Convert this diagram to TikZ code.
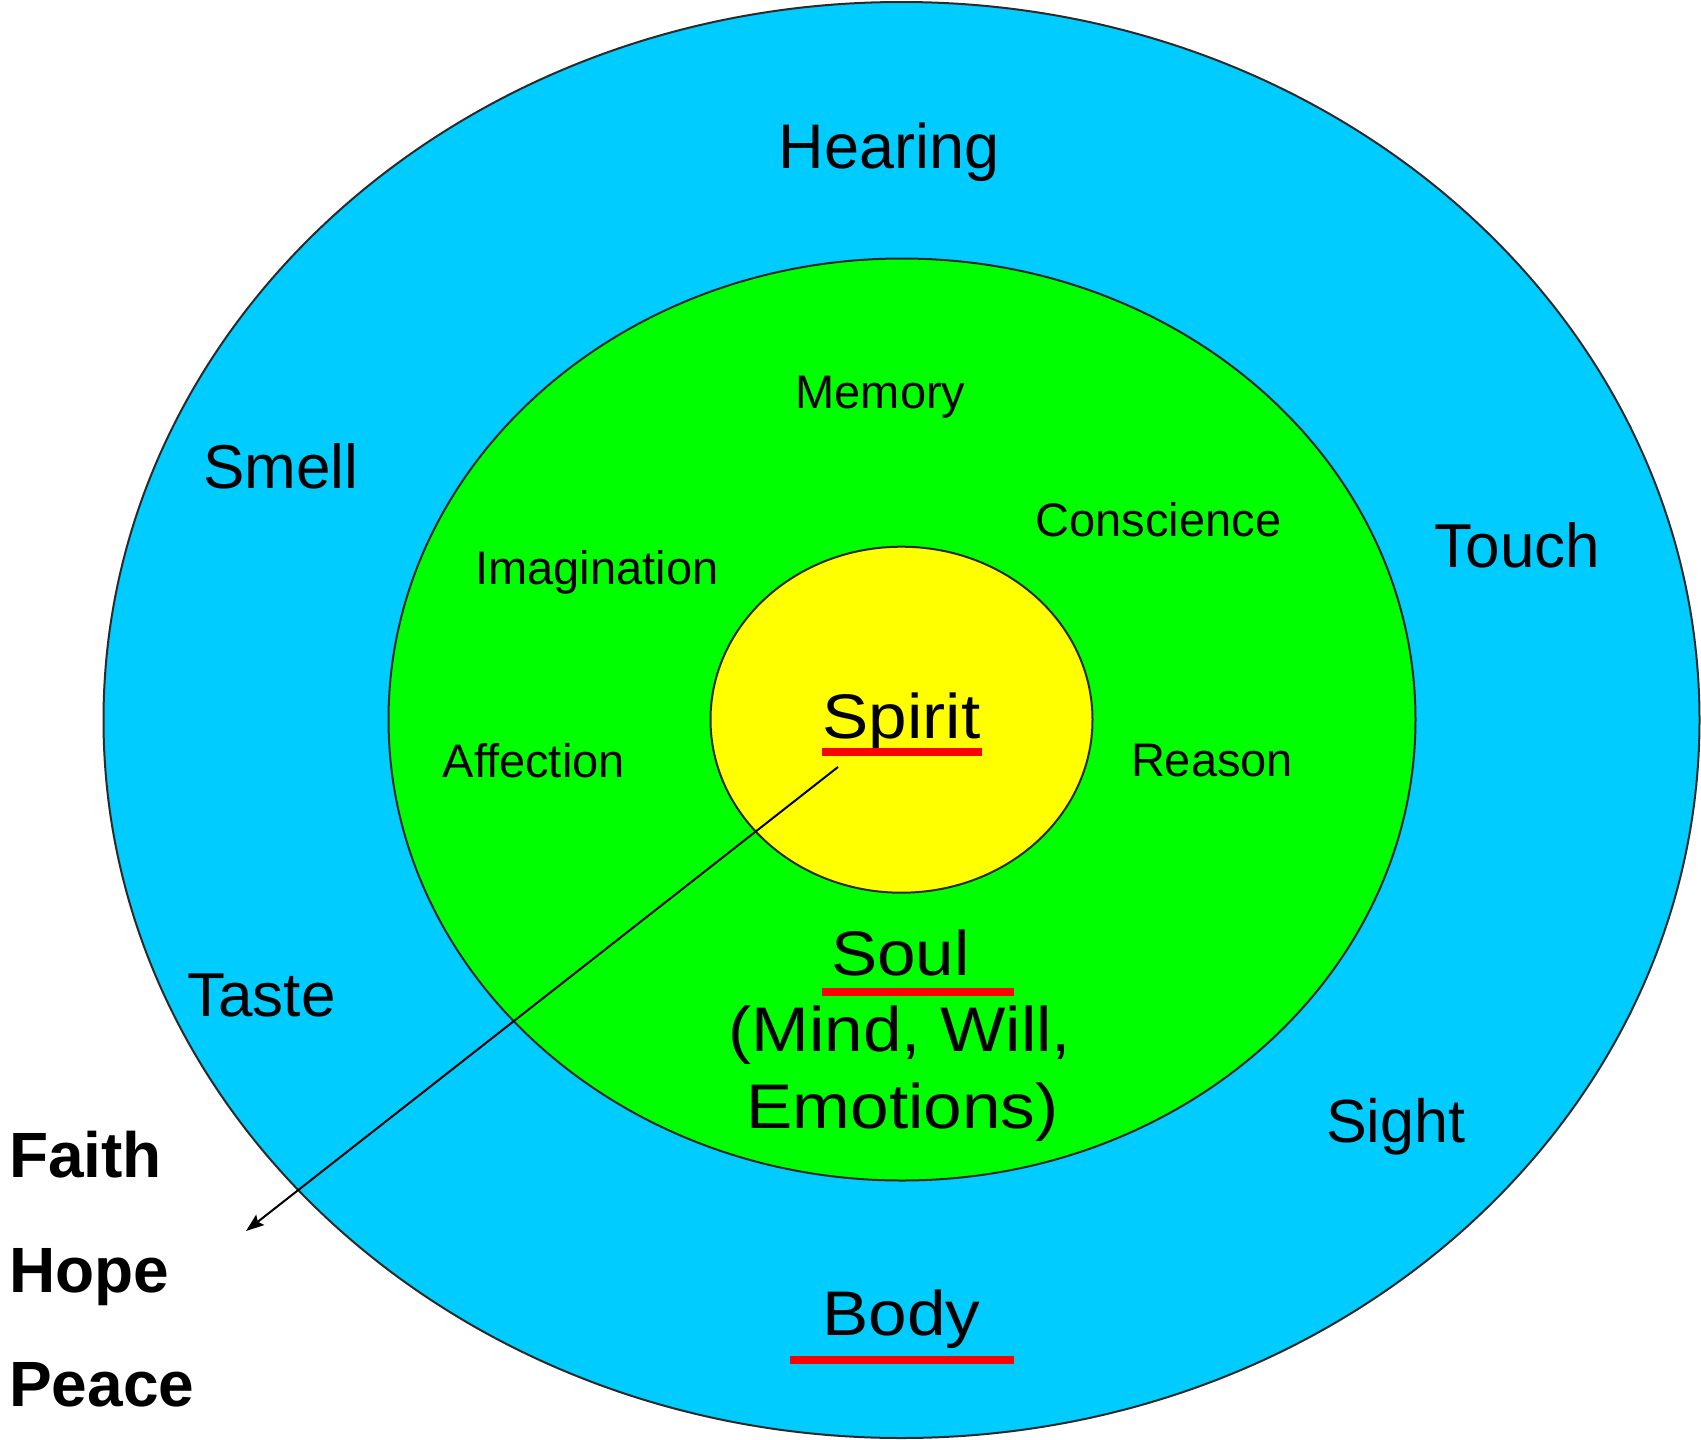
\documentclass[tikz,border=0pt]{standalone}
\usepackage{fontspec}
\setmainfont{Liberation Sans}
\usetikzlibrary{arrows.meta}
\definecolor{bodyblue}{HTML}{00CCFF}
\definecolor{soulgreen}{HTML}{00FF00}
\definecolor{spirityellow}{HTML}{FFFF00}
\definecolor{ringline}{HTML}{2A2A2A}
\newcommand{\stretchtxt}[1]{\scalebox{1.1}[1]{#1}}
\tikzset{
  ring/.style={draw=ringline, line width=2pt},
  small/.style={inner sep=0pt, anchor=base, font=\fontsize{47}{56}\selectfont},
  sense/.style={inner sep=0pt, anchor=base, font=\fontsize{62}{74}\selectfont},
  big/.style={inner sep=0pt, anchor=base, font=\fontsize{63}{76}\selectfont},
  fruit/.style={inner sep=0pt, anchor=base west, font=\fontsize{64}{74}\selectfont\bfseries},
  uline/.style={fill=red},
  pointer/.style={draw=black, line width=2pt, -{Stealth[length=18pt,width=13pt,inset=3pt]}}
}
\begin{document}
\begin{tikzpicture}[x=1pt,y=-1pt]
\useasboundingbox (0,0) rectangle (1701,1440);
\fill[white] (0,0) rectangle (1701,1440);
% rings
\draw[ring, fill=bodyblue] (901.5,720) ellipse [x radius=798, y radius=718];
\draw[ring, fill=soulgreen] (902,719.5) ellipse [x radius=513.5, y radius=461];
\draw[ring, fill=spirityellow] (901.5,719.7) ellipse [x radius=191, y radius=173];
% body senses
\node[sense, font=\fontsize{63}{74}\selectfont] (hearing) at (889,168) {Hearing};
\node[sense] (smell) at (281,488) {Smell};
\node[sense] (touch) at (1517.4,567.7) {Touch};
\node[sense] (taste) at (261.4,1016) {Taste};
\node[sense, font=\fontsize{61}{74}\selectfont] (sight) at (1395.8,1142.7) {Sight};
% soul faculties
\node[small] (memory) at (880.5,408) {Memory};
\node[small] (imagination) at (597,584) {Imagination};
\node[small] (conscience) at (1158.4,536) {Conscience};
\node[small] (reason) at (1212,776.7) {Reason};
\node[small] (affection) at (533.7,777) {Affection};
% main labels
\node[big] (spirit) at (901.7,738.3) {\stretchtxt{Spirit}};
\node[big] (soul) at (900.5,975) {\stretchtxt{Soul}};
\node[big] (mind1) at (900,1051.7) {\stretchtxt{(Mind, Will,}};
\node[big] (mind2) at (902.5,1128.3) {\stretchtxt{Emotions)}};
\node[big] (body) at (901.3,1335) {\stretchtxt{Body}};
% underlines
\fill[uline] (821.7,748) rectangle (982,756);
\fill[uline] (822,988) rectangle (1014,996);
\fill[uline] (790,1356) rectangle (1014,1364);
% fruits
\node[fruit] (faith) at (9,1177.3) {Faith};
\node[fruit] (hope) at (9,1292.7) {Hope};
\node[fruit] (peace) at (9,1406.7) {Peace};
% arrow
\coordinate (astart) at (838,767);
\coordinate (aend) at (246,1231);
\draw[pointer] (astart) -- (aend);
\end{tikzpicture}
\end{document}
